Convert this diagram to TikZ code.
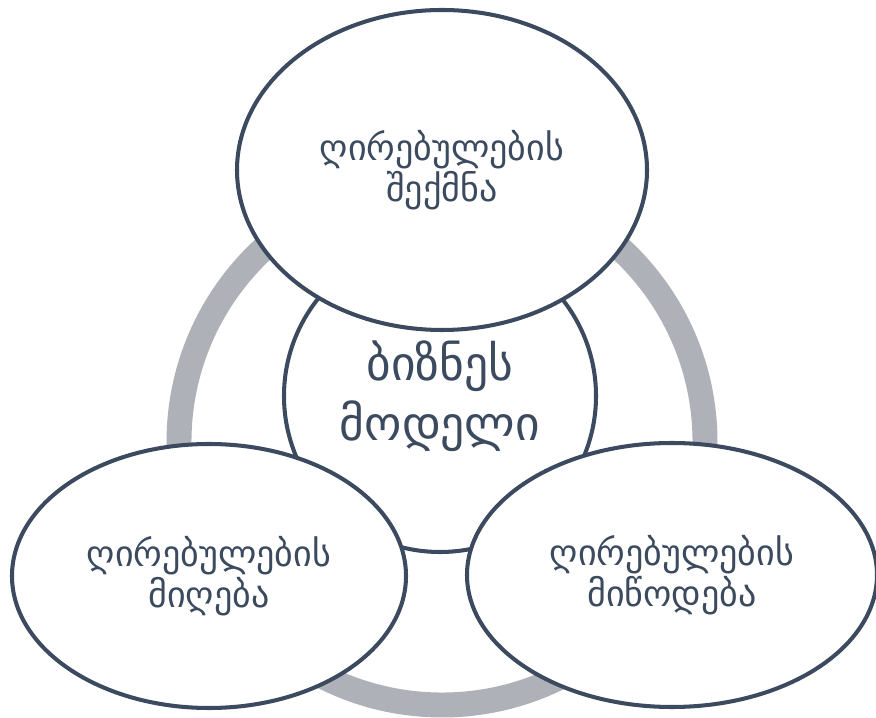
\documentclass[tikz,border=0pt]{standalone}
\usepackage{fontspec}
\newfontfamily\geofont{DejaVu Sans}
\usetikzlibrary{shapes.geometric}
\definecolor{slate}{HTML}{3B4A5E}
\definecolor{ringgray}{HTML}{AEB1B8}
\tikzset{
  stage/.style={ellipse,draw=slate,line width=2.3pt,fill=white,inner sep=0pt,
    text=slate,align=center,font=\geofont\fontsize{20.5}{23}\selectfont},
  core/.style={circle,draw=slate,line width=2.3pt,fill=white,inner sep=0pt,
    minimum size=6.24cm,text=slate,align=center,font=\geofont\fontsize{27}{34}\selectfont}
}

\begin{document}
\begin{tikzpicture}
    \useasboundingbox (0,0) rectangle (17.52,-14.36);
    \draw[ringgray,line width=14.2pt](8.84,-8.84) circle (5.26);
    \node[core](model) at (8.8,-7.92){ბიზნეს\\მოდელი};
\node[stage,minimum width=8.2cm,minimum height=6.4cm](create) at (8.84,-3.4){ღირებულების\\შექმნა};
\node[stage,minimum width=7.88cm,minimum height=5.28cm](capture) at (4.18,-11.52){ღირებულების\\მიღება};
\node[stage,minimum width=8.2cm,minimum height=5.28cm](deliver) at (13.44,-11.5){ღირებულების\\მიწოდება};

\end{tikzpicture}
\end{document}
